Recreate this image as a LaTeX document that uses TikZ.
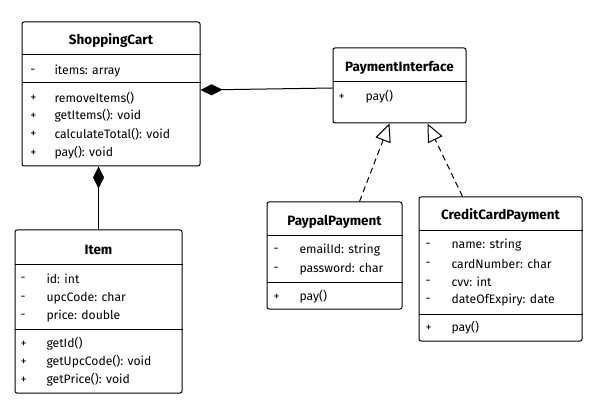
\documentclass[tikz,border=0pt]{standalone}
\usepackage{fontspec}
\setmainfont{Fira Sans}
\usetikzlibrary{arrows.meta}

\begin{document}
\begin{tikzpicture}[x=1pt,y=-1pt,
    umlbox/.style={draw, rounded corners=2pt, inner sep=0pt},
    title/.style={font=\fontsize{13.5}{15}\selectfont\bfseries, inner sep=0pt},
    member/.style={anchor=west, inner sep=0pt},
    compose/.style={{Diamond[length=22pt,width=11pt]}-},
    realize/.style={dash pattern=on 6pt off 4pt, -{Triangle[open,length=18pt,width=16pt]}}]
    \useasboundingbox (0,0) rectangle (605,414);
    \begin{scope}[line width=1pt,font=\fontsize{12.2}{14}\selectfont]

    % ShoppingCart
    \node [umlbox, minimum width=178pt, minimum height=144pt] (cart) at (111,94) {};
    \node [title] (cartT) at (111,41) {ShoppingCart};
    \foreach \y in {55,83}
        \draw (cart.west |- 0,\y) -- (cart.east |- 0,\y);
    \foreach \y/\s/\t in {71/-/items: array, 98/+/removeItems(), 116/+/getItems(): void,
                          134/+/calculateTotal(): void, 153/+/pay(): void}{%
        \node [member] (cartS\y) at (30,\y) {\s};
        \node [member] (cartM\y) at (54,\y) {\t};}

    % PaymentInterface
    \node [umlbox, minimum width=133pt, minimum height=75pt] (pay) at (399.5,85.5) {};
    \node [title] (payT) at (399.5,68) {PaymentInterface};
    \draw (pay.west |- 0,82) -- (pay.east |- 0,82);
    \node [member] (payS) at (338,97) {+};
    \node [member] (payM) at (365,97) {pay()};

    % Item
    \node [umlbox, minimum width=167pt, minimum height=163pt] (item) at (98.5,311.5) {};
    \node [title] (itemT) at (98.5,250) {Item};
    \foreach \y in {264,329}
        \draw (item.west |- 0,\y) -- (item.east |- 0,\y);
    \foreach \y/\s/\t in {279/-/id: int, 298/-/upcCode: char, 316/-/price: double,
                          344/+/getId(), 362/+/getUpcCode(): void, 380/+/getPrice(): void}{%
        \node [member] (itemS\y) at (20,\y) {\s};
        \node [member] (itemM\y) at (46,\y) {\t};}

    % PaypalPayment
    \node [umlbox, minimum width=135pt, minimum height=107pt] (paypal) at (334.5,255.5) {};
    \node [title] (paypalT) at (334.5,222) {PaypalPayment};
    \foreach \y in {236,282}
        \draw (paypal.west |- 0,\y) -- (paypal.east |- 0,\y);
    \foreach \y/\s/\t in {250/-/emailId: string, 269/-/password: char, 297/+/pay()}{%
        \node [member] (paypalS\y) at (273,\y) {\s};
        \node [member] (paypalM\y) at (299,\y) {\t};}

    % CreditCardPayment
    \node [umlbox, minimum width=163pt, minimum height=144pt] (credit) at (500.5,269) {};
    \node [title] (creditT) at (500.5,216) {CreditCardPayment};
    \foreach \y in {231,314}
        \draw (credit.west |- 0,\y) -- (credit.east |- 0,\y);
    \foreach \y/\s/\t in {245/-/name: string, 264/-/cardNumber: char, 282/-/cvv: int,
                          300/-/dateOfExpiry: date, 328/+/pay()}{%
        \node [member] (creditS\y) at (425,\y) {\s};
        \node [member] (creditM\y) at (451,\y) {\t};}

    % relations
    \draw [compose] ([yshift=4pt]cart.east) -- ([yshift=-2.5pt]pay.west);
    \draw [compose] (item.north |- cart.south) -- (item.north);
    \draw [realize] ([xshift=25pt]paypal.north) -- ([xshift=-10pt]pay.south);
    \draw [realize] ([xshift=-38pt]credit.north) -- ([xshift=28pt]pay.south);
\end{scope}
\end{tikzpicture}
\end{document}
